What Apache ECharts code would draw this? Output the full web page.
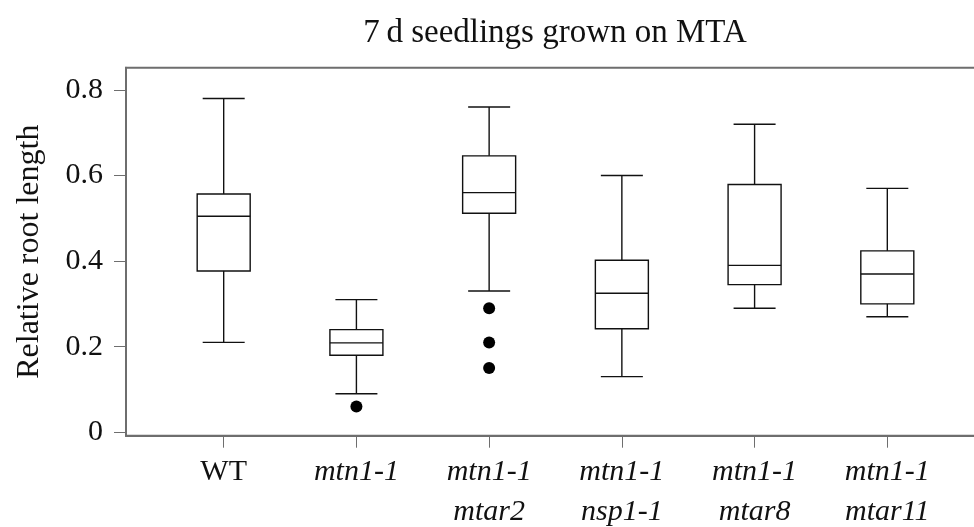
<!DOCTYPE html>
<html>
<head>
<meta charset="utf-8">
<script src="https://cdn.jsdelivr.net/npm/echarts@6.0.0/dist/echarts.min.js"></script>
<style>
  html, body { margin: 0; padding: 0; background: #fff; }
  #chart { width: 974px; height: 527px; }
</style>
</head>
<body>
<div id="chart"></div>
<script>
// ---- data ----
const categories = ['WT', 'mtn1-1', 'mtn1-1\nmtar2', 'mtn1-1\nnsp1-1', 'mtn1-1\nmtar8', 'mtn1-1\nmtar11'];
const whiskerLow  = [0.21, 0.09, 0.33, 0.13, 0.29, 0.27];
const quartile1   = [0.377, 0.18, 0.512, 0.242, 0.345, 0.30];
const medians     = [0.505, 0.209, 0.560, 0.325, 0.390, 0.370];
const quartile3   = [0.557, 0.240, 0.646, 0.402, 0.579, 0.424];
const whiskerHigh = [0.78, 0.31, 0.76, 0.60, 0.72, 0.57];
const outliers    = [[1, 0.06], [2, 0.29], [2, 0.21], [2, 0.15]];
const yTickValues = [0, 0.2, 0.4, 0.6, 0.8];
const yTickLabels = ['0', '0.2', '0.4', '0.6', '0.8'];
const title = '7\u2009d seedlings grown on MTA';
const yName = 'Relative root length';

const boxRows = categories.map((c, i) => [i, whiskerLow[i], quartile1[i], medians[i], quartile3[i], whiskerHigh[i]]);
const xTickValues = categories.map((c, i) => i);

const FONT = 'Liberation Serif';
const AXIS_COLOR = '#6e6e6e';

const chart = echarts.init(document.getElementById('chart'), null, { renderer: 'canvas' });

function renderBox(params, api) {
  const x = api.value(0);
  const pMin = api.coord([x, api.value(1)]);
  const pQ1 = api.coord([x, api.value(2)]);
  const pMed = api.coord([x, api.value(3)]);
  const pQ3 = api.coord([x, api.value(4)]);
  const pMax = api.coord([x, api.value(5)]);
  const cx = pMed[0];
  const hb = 26.5, hc = 21;
  const st = { stroke: '#111', lineWidth: 1.4, fill: null };
  return {
    type: 'group',
    children: [
      { type: 'rect', shape: { x: cx - hb, y: pQ3[1], width: hb * 2, height: pQ1[1] - pQ3[1] }, style: { stroke: '#111', lineWidth: 1.4, fill: '#fff' } },
      { type: 'line', shape: { x1: cx - hb, y1: pMed[1], x2: cx + hb, y2: pMed[1] }, style: st },
      { type: 'line', shape: { x1: cx, y1: pQ3[1], x2: cx, y2: pMax[1] }, style: st },
      { type: 'line', shape: { x1: cx, y1: pQ1[1], x2: cx, y2: pMin[1] }, style: st },
      { type: 'line', shape: { x1: cx - hc, y1: pMax[1], x2: cx + hc, y2: pMax[1] }, style: st },
      { type: 'line', shape: { x1: cx - hc, y1: pMin[1], x2: cx + hc, y2: pMin[1] }, style: st }
    ]
  };
}

const option = {
  backgroundColor: '#fff',
  animation: false,
  title: {
    text: title,
    left: 555,
    top: 17,
    textAlign: 'center',
    padding: 0,
    textStyle: { fontFamily: FONT, fontSize: 33, fontWeight: 'normal', color: '#111' }
  },
  grid: {
    left: 126, right: -11, top: 67.7, bottom: 91.3,
    outerBoundsMode: 'none',
    containLabel: false,
    show: true, borderColor: AXIS_COLOR, borderWidth: 2, backgroundColor: 'transparent'
  },
  xAxis: {
    type: 'value',
    min: -0.736, max: 5.736,
    axisLine: { show: true, onZero: false, lineStyle: { color: AXIS_COLOR, width: 2 } },
    axisTick: { show: true, customValues: xTickValues, length: 12, lineStyle: { color: AXIS_COLOR, width: 1 } },
    splitLine: { show: false },
    axisLabel: {
      customValues: xTickValues,
      margin: 16,
      color: '#111',
      fontFamily: FONT,
      fontSize: 30,
      lineHeight: 40,
      formatter: function (v) {
        const i = Math.round(v);
        const style = i === 0 ? 'n' : 'i';
        return categories[i].split('\n').map(l => '{' + style + '|' + l + '}').join('\n');
      },
      rich: {
        n: { fontFamily: FONT, fontSize: 30, lineHeight: 40, fontStyle: 'normal', color: '#111' },
        i: { fontFamily: FONT, fontSize: 30, lineHeight: 40, fontStyle: 'italic', color: '#111' }
      }
    }
  },
  yAxis: {
    type: 'value',
    min: -0.008, max: 0.852,
    name: yName,
    nameLocation: 'middle',
    nameRotate: 90,
    nameGap: 80,
    nameTextStyle: { fontFamily: FONT, fontSize: 32, color: '#111' },
    axisLine: { show: true, onZero: false, lineStyle: { color: AXIS_COLOR, width: 2 } },
    axisTick: { show: true, customValues: yTickValues, length: 12, lineStyle: { color: AXIS_COLOR, width: 1 } },
    splitLine: { show: false },
    axisLabel: {
      customValues: yTickValues,
      margin: 23,
      color: '#111',
      fontFamily: FONT,
      fontSize: 30,
      formatter: function (v) {
        const i = yTickValues.findIndex(t => Math.abs(t - v) < 1e-9);
        return i >= 0 ? yTickLabels[i] : '';
      }
    }
  },
  series: [
    {
      type: 'custom',
      renderItem: renderBox,
      encode: { x: 0, y: [1, 2, 3, 4, 5] },
      data: boxRows,
      clip: false,
      z: 2
    },
    {
      type: 'scatter',
      data: outliers,
      symbol: 'circle',
      symbolSize: 12,
      itemStyle: { color: '#000', opacity: 1 },
      z: 3
    }
  ]
};
chart.setOption(option);
</script>
</body>
</html>
